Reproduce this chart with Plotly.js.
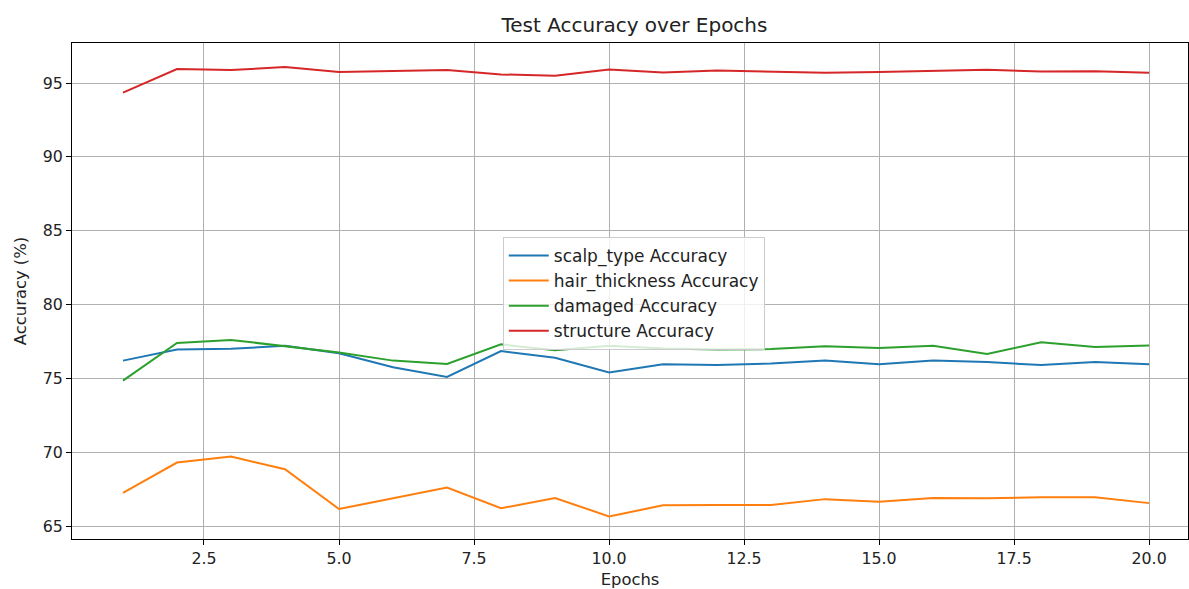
<!DOCTYPE html>
<html>
<head>
<meta charset="utf-8">
<script src="https://cdn.plot.ly/plotly-3.0.1.min.js"></script>
<style>html,body{margin:0;padding:0;background:#fff;}#chart{width:1189px;height:589px;}</style>
</head>
<body>
<div id="chart"></div>
<script>
const epochs = [1,2,3,4,5,6,7,8,9,10,11,12,13,14,15,16,17,18,19,20];
const scalpType = [76.2,76.95,77.0,77.2,76.7,75.75,75.1,76.85,76.4,75.4,75.95,75.9,76.0,76.2,75.95,76.2,76.1,75.9,76.1,75.95];
const hairThickness = [67.25,69.3,69.7,68.85,66.15,66.9,67.6,66.2,66.9,65.65,66.4,66.42,66.42,66.82,66.65,66.9,66.88,66.95,66.95,66.55];
const damaged = [74.85,77.4,77.6,77.15,76.75,76.2,75.97,77.3,76.9,77.2,77.02,76.95,76.98,77.18,77.05,77.2,76.65,77.45,77.12,77.22];
const structure = [94.35,95.95,95.88,96.08,95.75,95.82,95.88,95.58,95.5,95.92,95.72,95.85,95.75,95.7,95.75,95.8,95.9,95.78,95.8,95.7];
const seriesNames = ["scalp_type Accuracy","hair_thickness Accuracy","damaged Accuracy","structure Accuracy"];
const colors = ["#1f77b4","#ff7f0e","#2ca02c","#d62728"];
const xTickVals = [2.5,5,7.5,10,12.5,15,17.5,20];
const xTickText = ["2.5","5.0","7.5","10.0","12.5","15.0","17.5","20.0"];
const yTickVals = [65,70,75,80,85,90,95];

const allSeries = [scalpType, hairThickness, damaged, structure];
const traces = allSeries.map((ys,i)=>({
  x: epochs, y: ys, type:'scatter', mode:'lines', name: seriesNames[i],
  line:{color:colors[i], width:2}
}));

const FAM = 'DejaVu Sans, sans-serif';
const tickFont = {family:FAM, size:15.8, color:'#222'};
const labelFont = {family:FAM, size:16.4, color:'#222'};
const layout = {
  width:1189, height:589,
  margin:{l:72, r:1, t:43, b:50, pad:0},
  paper_bgcolor:'#fff', plot_bgcolor:'#fff',
  font: tickFont,
  title:{text:'Test Accuracy over Epochs', font:{family:FAM, size:20, color:'#222'}, xref:'paper', x:0.504, xanchor:'center', y:0.957, yanchor:'middle'},
  xaxis:{
    range:[0.056,20.72], tickmode:'array', tickvals:xTickVals, ticktext:xTickText,
    showgrid:true, gridcolor:'#b0b0b0', gridwidth:1,
    showline:true, linecolor:'#000', linewidth:1, mirror:true,
    ticks:'outside', ticklen:5, tickcolor:'#000', tickwidth:1,
    zeroline:false, tickfont:tickFont,
    title:{text:'Epochs', font:labelFont, standoff:8}
  },
  yaxis:{
    range:[64.12,97.71], tickmode:'array', tickvals:yTickVals,
    showgrid:true, gridcolor:'#b0b0b0', gridwidth:1,
    showline:true, linecolor:'#000', linewidth:1, mirror:true,
    ticks:'outside', ticklen:5, tickcolor:'#000', tickwidth:1,
    zeroline:false, tickfont:tickFont,
    title:{text:'Accuracy (%)', font:labelFont, standoff:11}
  },
  legend:{
    x:0.386, y:0.609, xanchor:'left', yanchor:'top',
    bgcolor:'rgba(255,255,255,0.8)', bordercolor:'#cccccc', borderwidth:1,
    font:{family:FAM, size:17, color:'#222'},
    tracegroupgap:0, itemwidth:40
  },
  showlegend:true
};
Plotly.newPlot('chart', traces, layout, {displayModeBar:false, staticPlot:true});
</script>
</body>
</html>
